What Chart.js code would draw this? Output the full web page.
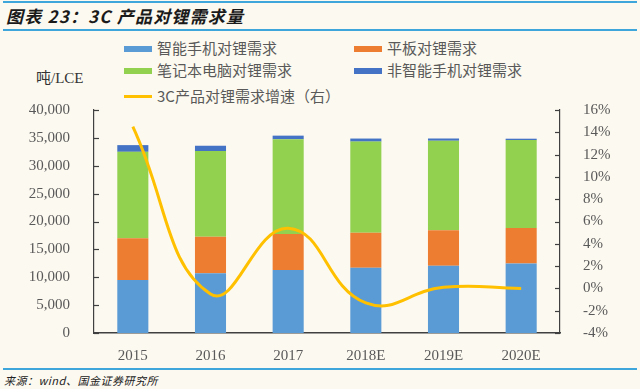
<!DOCTYPE html>
<html>
<head>
<meta charset="utf-8">
<script src="https://cdn.jsdelivr.net/npm/chart.js@4.4.1/dist/chart.umd.min.js"></script>
<style>
  html, body { margin: 0; padding: 0; }
  body { width: 640px; height: 389px; background: #fcf9f0; position: relative; overflow: hidden; }
  .rule { position: absolute; left: 3px; right: 3px; height: 2px; background: #3ea6da; }
  #title { position: absolute; left: 6px; top: 3px; font: italic bold 17px "Noto Sans CJK SC", serif; color: #1a1a1a; letter-spacing: 1.2px; }
  #unit { position: absolute; left: 36px; top: 66px; font: 15px "Liberation Serif", "Noto Sans CJK SC", serif; color: #333; }
  #source { position: absolute; left: 4px; top: 372px; font: italic 11px "Noto Sans CJK SC", serif; color: #222; letter-spacing: 0.5px; }
  .leg { position: absolute; font: 15px "Noto Sans CJK SC", sans-serif; color: #595959; white-space: nowrap; line-height: 20px; }
  .leg span { display: inline-block; width: 28px; height: 6px; margin-right: 5px; vertical-align: middle; position: relative; top: -1px; }
  canvas { position: absolute; left: 0; top: 0; }
</style>
</head>
<body>
<div class="rule" style="top:1px"></div>
<div id="title">图表 23：3C 产品对锂需求量</div>
<div class="rule" style="top:29px"></div>
<div id="unit">吨/LCE</div>
<div id="legend"></div>
<div class="rule" style="top:368px"></div>
<div id="source">来源：wind、国金证券研究所</div>
<canvas id="chart" width="640" height="389"></canvas>
<script>
const years = ["2015", "2016", "2017", "2018E", "2019E", "2020E"];
const seriesNames = ["智能手机对锂需求", "平板对锂需求", "笔记本电脑对锂需求", "非智能手机对锂需求"];
const lineName = "3C产品对锂需求增速（右）";
const smartphone = [9500, 10700, 11300, 11700, 12050, 12450];
const tablet = [7500, 6550, 6450, 6280, 6400, 6400];
const laptop = [15500, 15400, 17000, 16350, 16050, 15750];
const featurePhone = [1200, 950, 650, 550, 380, 250];
const growth = [14.5, -0.5, 5.4, -1.3, 0.1, 0.0];
const barColors = ["#5b9bd5", "#ed7d31", "#92d050", "#4472c4"];
const lineColor = "#ffc000";

// legend in two columns, like the source
const legendSpots = [[124, 38], [354, 38], [124, 60], [354, 60], [124, 86]];
const legendItems = seriesNames.map((n, i) => ({ name: n, color: barColors[i], h: 6 }))
  .concat([{ name: lineName, color: lineColor, h: 3 }]);
const legendBox = document.getElementById("legend");
legendItems.forEach((it, i) => {
  const d = document.createElement("div");
  d.className = "leg";
  d.style.left = legendSpots[i][0] + "px";
  d.style.top = legendSpots[i][1] + "px";
  d.innerHTML = '<span style="background:' + it.color + ';height:' + it.h + 'px"></span>' + it.name;
  legendBox.appendChild(d);
});

// ticks on the inside of the value axes
const innerTicks = {
  id: "innerTicks",
  afterDraw(chart) {
    const c = chart.ctx;
    c.save();
    c.strokeStyle = "#404040";
    c.lineWidth = 1.2;
    ["y", "y1"].forEach(id => {
      const s = chart.scales[id];
      const x0 = id === "y" ? s.right : s.left;
      const dir = id === "y" ? 1 : -1;
      s.ticks.forEach(t => {
        const py = Math.round(s.getPixelForValue(t.value)) + 0.5;
        c.beginPath();
        c.moveTo(x0, py);
        c.lineTo(x0 + dir * 5, py);
        c.stroke();
      });
    });
    c.restore();
  }
};

const tickFont = { family: "'Liberation Serif', serif", size: 15 };
const barSets = [smartphone, tablet, laptop, featurePhone].map((d, i) => ({
  type: "bar",
  label: seriesNames[i],
  data: d,
  backgroundColor: barColors[i],
  yAxisID: "y",
  stack: "lithium",
  order: 1,
  categoryPercentage: 1,
  barPercentage: 0.4,
}));

new Chart(document.getElementById("chart"), {
  data: {
    labels: years,
    datasets: barSets.concat([{
      type: "line",
      label: lineName,
      data: growth,
      borderColor: lineColor,
      borderWidth: 3,
      pointRadius: 0,
      tension: 0.45,
      yAxisID: "y1",
      order: 0,
    }]),
  },
  options: {
    responsive: false,
    animation: false,
    layout: { padding: { top: 110, left: 0, right: 0, bottom: 0 } },
    plugins: { legend: { display: false }, tooltip: { enabled: false } },
    scales: {
      x: {
        stacked: true,
        grid: { display: false },
        border: { color: "#404040", width: 1.5 },
        ticks: { font: tickFont, color: "#595959", padding: 6 },
        afterFit(s) { s.height = 56; },
      },
      y: {
        stacked: true,
        position: "left",
        min: 0,
        max: 40000,
        grid: { display: false },
        border: { color: "#404040", width: 1.2 },
        ticks: { stepSize: 5000, font: tickFont, color: "#595959", padding: 16 },
        afterFit(s) { s.width = 94; },
      },
      y1: {
        position: "right",
        min: -4,
        max: 16,
        grid: { display: false },
        border: { color: "#404040", width: 1.2 },
        ticks: { stepSize: 2, font: tickFont, color: "#595959", padding: 15, callback: v => v + "%" },
        afterFit(s) { s.width = 80; },
      },
    },
  },
  plugins: [innerTicks],
});
</script>
</body>
</html>
